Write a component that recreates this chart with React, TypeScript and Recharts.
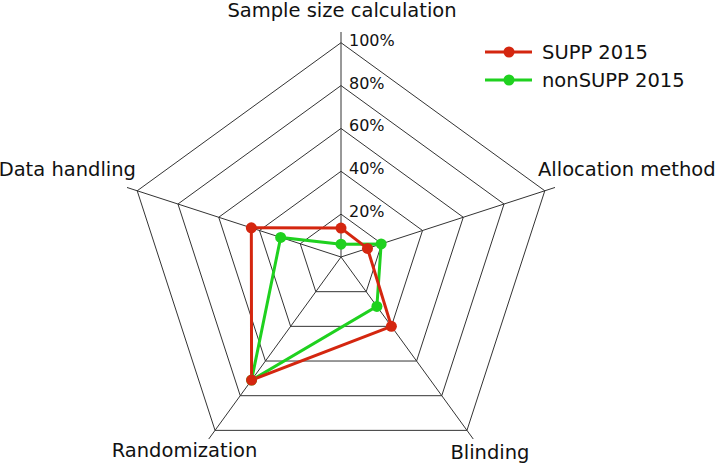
import { Legend, PolarAngleAxis, PolarGrid, PolarRadiusAxis, Radar, RadarChart } from 'recharts';

const categories = ['Sample size calculation', 'Allocation method', 'Blinding', 'Randomization', 'Data handling'];
const supp2015 = [13.5, 13, 40, 71, 44];
const nonSupp2015 = [6, 19.7, 28.5, 71, 29.6];
const radiusTicks = [20, 40, 60, 80, 100];

const data = categories.map((name, i) => ({ name, supp: supp2015[i], nonSupp: nonSupp2015[i] }));

const RED = '#d4260f';
const GREEN = '#1fd11f';
const FONT = '"DejaVu Sans", Verdana, sans-serif';

// label offsets from the angle-axis tick point
const labelPos = [
  { dx: 1, dy: -7, anchor: 'middle' },
  { dx: -24.6, dy: -9, anchor: 'start' },
  { dx: 12, dy: 13.5, anchor: 'middle' },
  { dx: -19.5, dy: 11.5, anchor: 'middle' },
  { dx: 16.6, dy: -9, anchor: 'end' }
];

function AngleTick(props: any) {
  const { x, y, payload } = props;
  const p = labelPos[payload.index] ?? { dx: 0, dy: 0, anchor: 'middle' };
  return (
    <text x={x + p.dx} y={y + p.dy} textAnchor={p.anchor} fontSize={19.5} fontFamily={FONT} fill="#111">
      {payload.value}
    </text>
  );
}

function RadiusTick(props: any) {
  const { x, y, payload } = props;
  return (
    <text x={x + 8} y={y + 3} textAnchor="start" fontSize={16} fontFamily={FONT} fill="#111">
      {payload.value}%
    </text>
  );
}

const makeDot = (color: string) => (p: any) => (
  <circle key={`${color}-${p.index}`} cx={p.cx} cy={p.cy} r={5.5} fill={color} />
);

function LegendContent(props: any) {
  const order = ['SUPP 2015', 'nonSUPP 2015'];
  const items = [...(props.payload ?? [])].sort((a: any, b: any) => order.indexOf(a.value) - order.indexOf(b.value));
  return (
    <svg width={220} height={70}>
      {items.map((item: any, i: number) => {
        const y = 10 + i * 28;
        return (
          <g key={item.value}>
            <line x1={3} x2={50} y1={y} y2={y} stroke={item.color} strokeWidth={3} />
            <circle cx={27} cy={y} r={5.5} fill={item.color} />
            <text x={60} y={y + 6.5} fontSize={19.5} fontFamily={FONT} fill="#111">
              {item.value}
            </text>
          </g>
        );
      })}
    </svg>
  );
}

export default function App() {
  return (
    <div style={{ position: 'fixed', left: 0, top: 0, background: '#fff' }}>
      <RadarChart width={716} height={466} data={data} cx={341} cy={257} outerRadius={225} margin={{ top: 0, right: 0, bottom: 0, left: 0 }}>
        <PolarGrid gridType="polygon" stroke="#333" strokeWidth={1} />
        <PolarAngleAxis dataKey="name" tickLine={false} axisLine={false} tick={<AngleTick />} />
        <PolarRadiusAxis angle={90} domain={[0, 104.65]} ticks={radiusTicks} axisLine={false} tickLine={false} tick={<RadiusTick />} />
        <Radar name="nonSUPP 2015" dataKey="nonSupp" stroke={GREEN} strokeWidth={3} fill="none" fillOpacity={0} dot={makeDot(GREEN)} isAnimationActive={false} />
        <Radar name="SUPP 2015" dataKey="supp" stroke={RED} strokeWidth={3} fill="none" fillOpacity={0} dot={makeDot(RED)} isAnimationActive={false} />
        <Legend content={<LegendContent />} wrapperStyle={{ position: 'absolute', left: 482, top: 42, width: 220 }} />
      </RadarChart>
    </div>
  );
}
